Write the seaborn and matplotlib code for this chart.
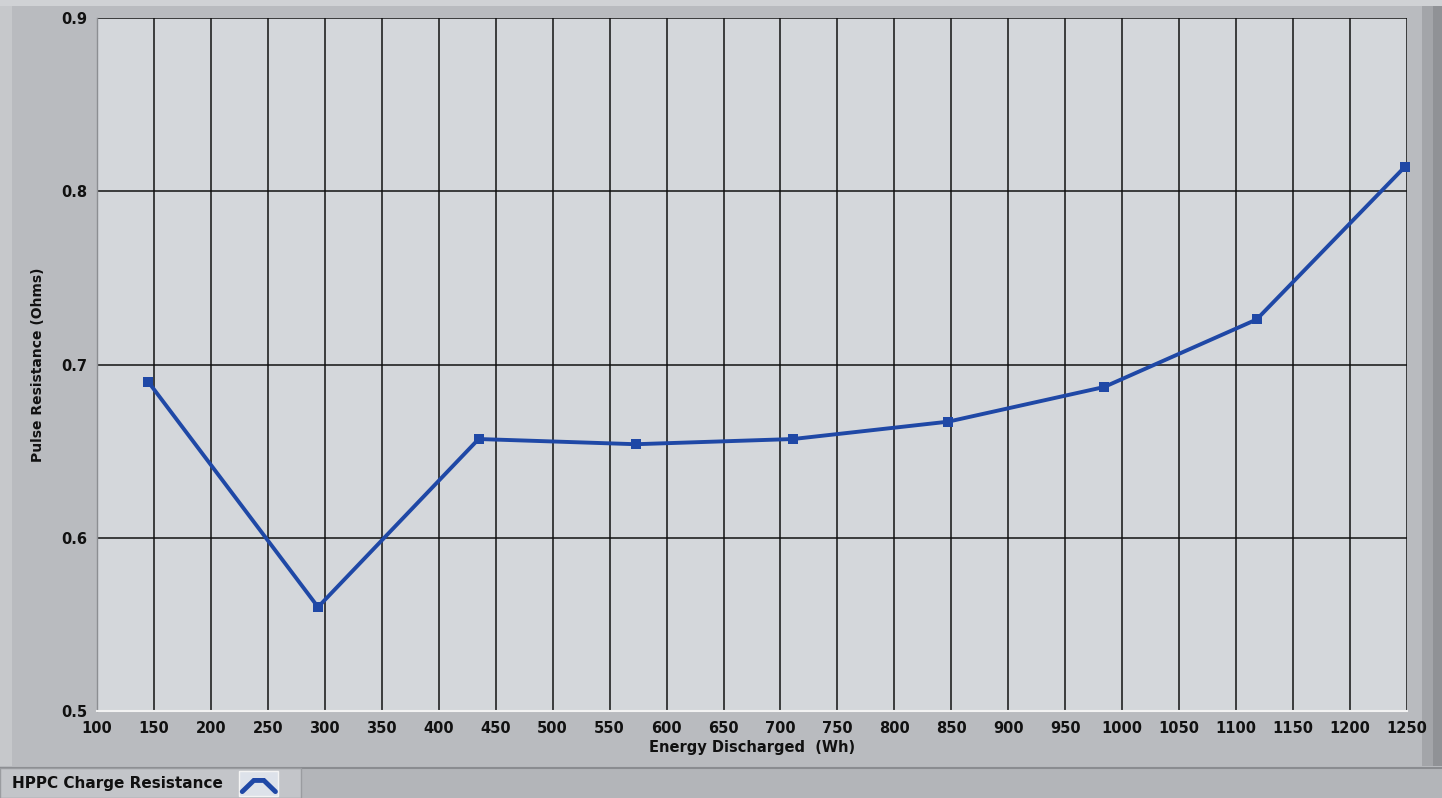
import matplotlib
matplotlib.use("Agg")
import matplotlib.pyplot as plt
import matplotlib.patches as mpatches
from matplotlib.lines import Line2D
import seaborn as sns
import pandas as pd

# HPPC charge pulse resistance versus energy discharged
energy_wh = [145, 294, 435, 573, 711, 847, 984, 1118, 1248]
resistance_ohm = [0.690, 0.560, 0.657, 0.654, 0.657, 0.667, 0.687, 0.726, 0.814]
series_name = "HPPC Charge Resistance"

x_ticks = list(range(100, 1251, 50))
y_ticks = [0.5, 0.6, 0.7, 0.8, 0.9]

df = pd.DataFrame({"Energy": energy_wh, "Resistance": resistance_ohm})

sns.set_theme(style="white")
plt.rcParams["font.family"] = ["DejaVu Sans"]

FRAME = "#b9bbbf"
PLOT_BG = "#d4d7db"
LINE_C = "#1f48a6"

fig = plt.figure(figsize=(14.42, 7.98), dpi=100)
fig.patch.set_facecolor(FRAME)

# panel bevel strips
fig.add_artist(mpatches.Rectangle((0, 0.993), 1, 0.007, transform=fig.transFigure,
                                  facecolor="#d0d2d5", edgecolor="none", zorder=0))
fig.add_artist(mpatches.Rectangle((0.986, 0.04), 0.008, 0.953, transform=fig.transFigure,
                                  facecolor="#a3a5a9", edgecolor="none", zorder=0))
fig.add_artist(mpatches.Rectangle((0.994, 0.04), 0.006, 0.953, transform=fig.transFigure,
                                  facecolor="#909296", edgecolor="none", zorder=0))
fig.add_artist(mpatches.Rectangle((0.0, 0.04), 0.008, 0.953, transform=fig.transFigure,
                                  facecolor="#c6c8cb", edgecolor="none", zorder=0))
# legend strip at the bottom
fig.add_artist(mpatches.Rectangle((0, 0), 1, 0.038, transform=fig.transFigure,
                                  facecolor="#b3b5b9", edgecolor="none", zorder=0))
fig.add_artist(Line2D([0, 1], [0.038, 0.038], transform=fig.transFigure,
                      color="#8a8c90", lw=1.5, zorder=1))
fig.add_artist(mpatches.Rectangle((0, 0), 0.209, 0.037, transform=fig.transFigure,
                                  facecolor="#c3c5c9", edgecolor="#9a9ca0", lw=1, zorder=1))
fig.text(0.008, 0.018, series_name, fontsize=11, fontweight="bold",
         color="#101010", va="center", ha="left")
# legend swatch
fig.add_artist(mpatches.Rectangle((0.166, 0.003), 0.027, 0.031, transform=fig.transFigure,
                                  facecolor="#dde2ea", edgecolor="#f4f4f4", lw=1, zorder=2))
fig.add_artist(Line2D([0.168, 0.176, 0.183, 0.191], [0.008, 0.022, 0.022, 0.008],
                      transform=fig.transFigure, color=LINE_C, lw=3.5, zorder=3,
                      solid_joinstyle="miter"))

ax = fig.add_axes([0.0673, 0.109, 0.9084, 0.8684])
ax.set_facecolor(PLOT_BG)

sns.lineplot(data=df, x="Energy", y="Resistance", ax=ax, color=LINE_C,
             linewidth=2.8, marker="s", markersize=7, markeredgewidth=0,
             zorder=5, clip_on=False)

ax.set_xlim(100, 1250)
ax.set_ylim(0.5, 0.9)
ax.set_xticks(x_ticks)
ax.set_yticks(y_ticks)
ax.set_xticklabels([str(v) for v in x_ticks])
ax.set_yticklabels([f"{v:.1f}" for v in y_ticks])
ax.grid(True, color="#111111", linewidth=1.1)
ax.set_axisbelow(True)

for side in ["top", "right"]:
    ax.spines[side].set_visible(False)
ax.spines["left"].set_color("#8c8e92")
ax.spines["left"].set_linewidth(1)
ax.spines["bottom"].set_color("#f2f2f2")
ax.spines["bottom"].set_linewidth(1.5)

ax.tick_params(axis="both", which="both", direction="out", length=5, width=1,
               color="#333333", labelsize=10.5, pad=2, labelcolor="#111111")
for lbl in ax.get_xticklabels() + ax.get_yticklabels():
    lbl.set_fontweight("bold")

ax.set_xlabel("Energy Discharged  (Wh)", fontsize=10.5, fontweight="bold",
              color="#111111", labelpad=3)
ax.set_ylabel("Pulse Resistance (Ohms)", fontsize=10, fontweight="bold",
              color="#111111", labelpad=12)

fig.savefig("out.png", dpi=100, facecolor=fig.get_facecolor())
